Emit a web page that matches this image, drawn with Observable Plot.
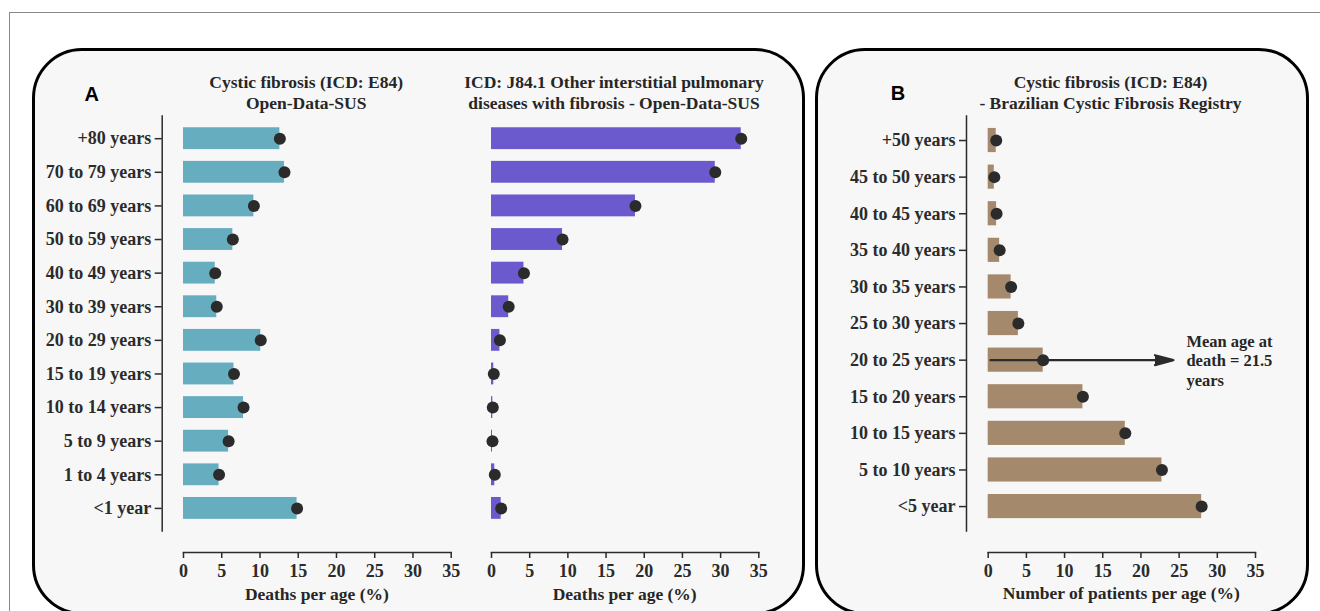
<!DOCTYPE html>
<html>
<head>
<meta charset="utf-8">
<script src="https://cdn.jsdelivr.net/npm/d3@7"></script>
<script src="https://cdn.jsdelivr.net/npm/@observablehq/plot@0.6"></script>
<style>
  html, body { margin: 0; padding: 0; background: #ffffff; }
  body { width: 1320px; height: 611px; overflow: hidden; position: relative; font-family: "Liberation Serif", "Times New Roman", serif; color: #262626; }
  .outer { position: absolute; left: 9px; top: 12px; width: 1400px; height: 700px; border-top: 1px solid #8a8a8a; border-left: 1px solid #8a8a8a; }
  .panel { position: absolute; box-sizing: border-box; border: 3.5px solid #000; border-radius: 50px; background: #f7f7f7; }
  .lbl { position: absolute; font-family: "Liberation Sans", Arial, sans-serif; font-weight: bold; font-size: 20px; line-height: 20px; transform: translate(-50%, -50%); color: #000; }
  .t { position: absolute; font-weight: bold; font-size: 17.5px; line-height: 21px; text-align: center; transform: translateX(-50%); white-space: nowrap; }
  .chart { position: absolute; top: 100px; }
</style>
</head>
<body>
<div class="outer"></div>
<div class="panel" style="left:31.7px; top:47.5px; width:773.3px; height:567.5px;"></div>
<div class="panel" style="left:814.5px; top:47.5px; width:494.5px; height:567.5px;"></div>
<div class="lbl" style="left:91.7px; top:94px;">A</div>
<div class="lbl" style="left:898px; top:93px;">B</div>
<div class="t" style="left:306.2px; top:71.5px;">Cystic fibrosis (ICD: E84)<br>Open-Data-SUS</div>
<div class="t" style="left:614px; top:71.5px;">ICD: J84.1 Other interstitial pulmonary<br>diseases with fibrosis - Open-Data-SUS</div>
<div class="t" style="left:1110.5px; top:71.5px;">Cystic fibrosis (ICD: E84)<br>- Brazilian Cystic Fibrosis Registry</div>
<div class="t" style="left:316.9px; top:583.5px;">Deaths per age (%)</div>
<div class="t" style="left:624.7px; top:583.5px;">Deaths per age (%)</div>
<div class="t" style="left:1121.3px; top:582.5px;">Number of patients per age (%)</div>
<div id="c1" class="chart" style="left:20px;"></div>
<div id="c2" class="chart" style="left:470px;"></div>
<div id="c3" class="chart" style="left:830px;"></div>
<script>
const agesA = ["+80 years", "70 to 79 years", "60 to 69 years", "50 to 59 years", "40 to 49 years", "30 to 39 years", "20 to 29 years", "15 to 19 years", "10 to 14 years", "5 to 9 years", "1 to 4 years", "<1 year"];
const cfSus = [12.6, 13.2, 9.2, 6.45, 4.15, 4.35, 10.1, 6.6, 7.85, 5.9, 4.65, 14.85];
const ildSus = [32.7, 29.3, 18.85, 9.3, 4.25, 2.25, 1.1, 0.3, 0.17, 0.13, 0.43, 1.27];
const agesB = ["+50 years", "45 to 50 years", "40 to 45 years", "35 to 40 years", "30 to 35 years", "25 to 30 years", "20 to 25 years", "15 to 20 years", "10 to 15 years", "5 to 10 years", "<5 year"];
const cfRegistry = [1.05, 0.8, 1.1, 1.5, 3.0, 3.95, 7.2, 12.4, 17.95, 22.75, 27.95];
const xTicks = [0, 5, 10, 15, 20, 25, 30, 35];
const meanAge = 21.5;
const meanArrow = {age: "20 to 25 years", x1: 0.3, x2: 24.25};
const meanNote = {age: "20 to 25 years", x: 25.95, text: `Mean age at\ndeath = ${meanAge}\nyears`};

const TOP = 100, HEIGHT = 490;
const AXIS_TOP = 115.5, AXIS_X_Y = 552, SPINE_GAP_Y = 21.4;
const ink = "#2b2b2b";

function makeChart({ages, values, color, width, marginLeft, marginRight, yAxis, padding, spineGapX, extra = []}) {
  const data = ages.map((age, i) => ({age, v: values[i]}));
  const marks = [
    Plot.barX(data, {x1: 0, x2: "v", y: "age", fill: color}),
    ...extra,
    Plot.dot(data, {x: "v", y: "age", r: 6, fill: ink}),
    Plot.axisX({ticks: xTicks, tickSize: 6, tickPadding: 5.5, tickFormat: d => String(d), label: null, strokeWidth: 1.5}),
    Plot.frame({anchor: "bottom", insetLeft: spineGapX, stroke: ink, strokeWidth: 1.5})
  ];
  if (yAxis) {
    marks.push(Plot.axisY({tickSize: 7, tickPadding: 4, label: null, strokeWidth: 1.5}));
    marks.push(Plot.frame({anchor: "left", insetBottom: SPINE_GAP_Y, stroke: ink, strokeWidth: 1.5}));
  }
  return Plot.plot({
    width, height: HEIGHT,
    marginTop: AXIS_TOP - TOP,
    marginBottom: HEIGHT - (AXIS_X_Y - TOP),
    marginLeft, marginRight,
    style: {background: "transparent", fontFamily: "'Liberation Serif', 'Times New Roman', serif", fontSize: "18px", fontWeight: "bold", color: ink, overflow: "visible"},
    x: {domain: [0, 35], insetLeft: spineGapX},
    y: {domain: ages, padding, round: false, insetBottom: SPINE_GAP_Y, axis: yAxis ? undefined : null},
    marks
  });
}

document.getElementById("c1").append(makeChart({
  ages: agesA, values: cfSus, color: "#67adc0", width: 445, marginLeft: 141.7, marginRight: 14.3,
  yAxis: true, padding: 0.35, spineGapX: 21.3
}));
document.getElementById("c2").append(makeChart({
  ages: agesA, values: ildSus, color: "#6a5acd", width: 310, marginLeft: 21, marginRight: 21.7,
  yAxis: false, padding: 0.35, spineGapX: 0
}));
document.getElementById("c3").append(makeChart({
  ages: agesB, values: cfRegistry, color: "#a4896c", width: 470, marginLeft: 136, marginRight: 45,
  yAxis: true, padding: 0.34, spineGapX: 21.7,
  extra: [
    Plot.arrow([meanArrow], {x1: "x1", x2: "x2", y1: "age", y2: "age", stroke: ink, fill: ink, strokeWidth: 2.2, headLength: 13, headAngle: 30}),
    Plot.text([meanNote], {x: "x", y: "age", text: "text", textAnchor: "start", lineAnchor: "middle", lineHeight: 1.19, fontSize: 16.5, fill: "#262626"})
  ]
}));
</script>
</body>
</html>
